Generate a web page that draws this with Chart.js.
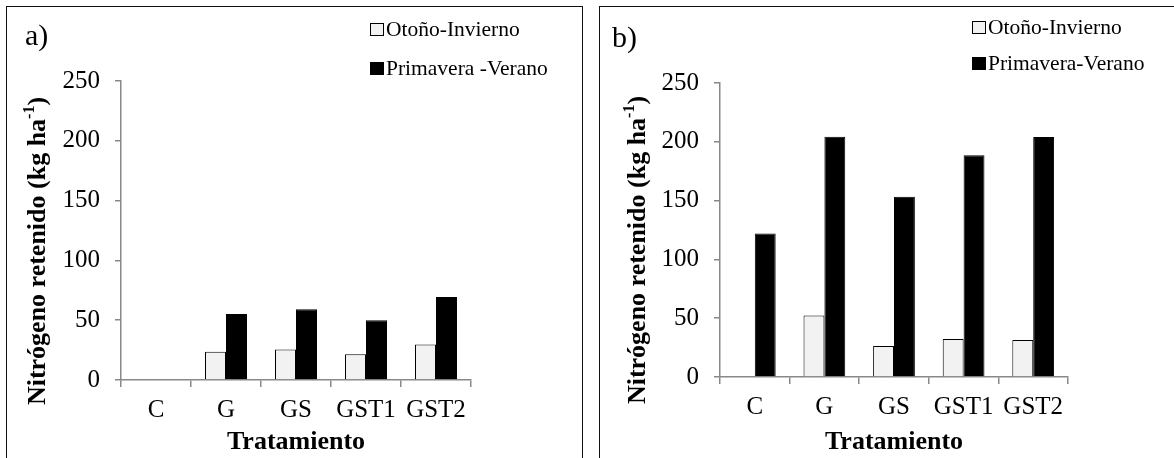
<!DOCTYPE html>
<html>
<head>
<meta charset="utf-8">
<script src="https://cdn.jsdelivr.net/npm/chart.js@4.4.1/dist/chart.umd.min.js"></script>
<style>
body{margin:0;background:#fff;width:1174px;height:458px;overflow:hidden;position:relative}
canvas{position:absolute;top:0}
#chart_a{left:0}
#chart_b{left:590px}
.frame{position:absolute;top:6px;height:470px;border:1.5px solid #111;border-bottom:none;pointer-events:none}
#frame_a{left:6px;width:575px}
#frame_b{left:599px;width:600px}
</style>
</head>
<body>
<canvas id="chart_a" width="590" height="458"></canvas>
<canvas id="chart_b" width="584" height="458"></canvas>
<div class="frame" id="frame_a"></div>
<div class="frame" id="frame_b"></div>
<script>
// data (kg ha-1)
const categories = ["C", "G", "GS", "GST1", "GST2"];
const otono_a = [null, 23.7, 25.4, 21.5, 29.6];
const primavera_a = [null, 55.2, 59.1, 49.9, 69.5];
const otono_b = [null, 52.2, 26.4, 32.3, 31.5];
const primavera_b = [122, 204.3, 153.2, 188.5, 204];
const y_ticks = [0, 50, 100, 150, 200, 250];
const legend_a = ["Otoño-Invierno", "Primavera -Verano"];
const legend_b = ["Otoño-Invierno", "Primavera-Verano"];
const x_title = "Tratamiento";
const y_title = ["Nitrógeno retenido (kg ha", "-1", ")"];

const serif = "'Liberation Serif', 'Times New Roman', serif";

// panel letter, legend and y title drawn on the canvas
const panelText = {
    id: "panelText",
    afterDraw(chart, args, opts){
        const ctx = chart.ctx;
        ctx.save();
        ctx.fillStyle = "#000";
        ctx.font = "30px " + serif;
        ctx.textBaseline = "alphabetic";
        ctx.textAlign = "left";
        ctx.fillText(opts.label, opts.labelX, opts.labelY);

        ctx.font = "21.5px " + serif;
        ctx.textBaseline = "middle";
        chart.data.datasets.forEach((ds, i) => {
            const y = opts.legendY + i * opts.legendGap;
            ctx.fillStyle = ds.backgroundColor;
            ctx.fillRect(opts.legendX, y - 6, 14, 13);
            ctx.strokeStyle = "#000";
            ctx.lineWidth = 1;
            ctx.strokeRect(opts.legendX + 0.5, y - 5.5, 13, 12);
            ctx.fillStyle = "#000";
            ctx.fillText(ds.label, opts.legendX + 16, y + 1);
        });

        // rotated y title with superscript
        ctx.translate(opts.titleX, opts.titleY);
        ctx.rotate(-Math.PI / 2);
        const big = "bold 26px " + serif, small = "bold 16px " + serif;
        ctx.font = big;
        const w0 = ctx.measureText(y_title[0]).width;
        const w2 = ctx.measureText(y_title[2]).width;
        ctx.font = small;
        const w1 = ctx.measureText(y_title[1]).width;
        let x = -(w0 + w1 + w2) / 2;
        ctx.font = big;
        ctx.fillText(y_title[0], x, 0);
        ctx.font = small;
        ctx.fillText(y_title[1], x + w0, -8);
        ctx.font = big;
        ctx.fillText(y_title[2], x + w0 + w1, 0);
        ctx.restore();
    }
};

function build_chart(id, otono, primavera, names, pos){
    return new Chart(document.getElementById(id), {
        type: "bar",
        data: {
            labels: categories,
            datasets: [{
                label: names[0],
                data: otono,
                backgroundColor: "#f2f2f2",
                borderColor: "#000",
                borderWidth: 1,
                borderSkipped: "bottom"
            },
            {
                label: names[1],
                data: primavera,
                backgroundColor: "#000",
                borderColor: "#000",
                borderWidth: 1,
                borderSkipped: "bottom"
            }]
        },
        options: {
            responsive: false,
            animation: false,
            devicePixelRatio: 1,
            categoryPercentage: 0.6,
            barPercentage: 1.0,
            layout: {padding: {left: 0, top: pos.top, right: pos.right, bottom: 0}},
            plugins: {
                legend: {display: false},
                tooltip: {enabled: false},
                panelText: pos.text
            },
            scales: {
                x: {
                    grid: {drawOnChartArea: false, drawTicks: true, tickLength: 7, color: "#888", lineWidth: 1.5, offset: true},
                    border: {display: true, color: "#888", width: 1.5},
                    ticks: {font: {family: serif, size: 25}, color: "#000", padding: 8, maxRotation: 0, autoSkip: false},
                    title: {display: true, text: x_title, color: "#000", font: {family: serif, size: 26, weight: "bold"}, padding: {top: 0, bottom: 0}},
                    afterFit: s => { s.height = pos.xHeight; }
                },
                y: {
                    min: 0,
                    max: 250,
                    grid: {drawOnChartArea: false, drawTicks: true, tickLength: 6, color: "#888", lineWidth: 1.5},
                    border: {display: true, color: "#888", width: 1.5},
                    ticks: {font: {family: serif, size: 25}, color: "#000", padding: 15},
                    afterBuildTicks: s => { s.ticks = y_ticks.map(v => ({value: v})); },
                    afterFit: s => { s.width = pos.yWidth; }
                }
            }
        },
        plugins: [panelText]
    });
}

build_chart("chart_a", otono_a, primavera_a, legend_a, {
    top: 81, right: 119, xHeight: 78, yWidth: 121,
    text: {label: "a)", labelX: 25, labelY: 45, legendX: 370, legendY: 29, legendGap: 39, titleX: 38, titleY: 251}
});
build_chart("chart_b", otono_b, primavera_b, legend_b, {
    top: 83, right: 106, xHeight: 81, yWidth: 130,
    text: {label: "b)", labelX: 22, labelY: 47, legendX: 382, legendY: 27, legendGap: 36, titleX: 48, titleY: 250}
});
</script>
</body>
</html>
